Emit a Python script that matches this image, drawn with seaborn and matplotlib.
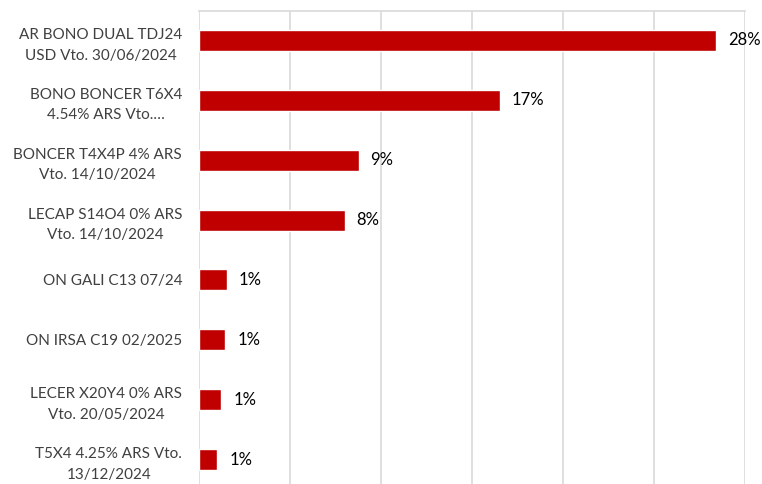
import numpy as np
import matplotlib
matplotlib.use("Agg")
import matplotlib.pyplot as plt
import seaborn as sns
import pandas as pd

# holdings (share of portfolio)
instruments = [
    "AR BONO DUAL TDJ24\nUSD Vto. 30/06/2024",
    "BONO BONCER T6X4\n4.54% ARS Vto.\u2026",
    "BONCER T4X4P 4% ARS\nVto. 14/10/2024",
    "LECAP S14O4 0% ARS\nVto. 14/10/2024",
    "ON GALI C13 07/24",
    "ON IRSA C19 02/2025",
    "LECER X20Y4 0% ARS\nVto. 20/05/2024",
    "T5X4 4.25% ARS Vto.\n13/12/2024",
]
weights = [0.2842, 0.1652, 0.0876, 0.0798, 0.0149, 0.0142, 0.0120, 0.0098]
x_ticks = [0.0, 0.05, 0.10, 0.15, 0.20, 0.25, 0.30]

df = pd.DataFrame({"instrument": instruments, "weight": weights})

sns.set_style("white")
plt.rcParams["font.family"] = ["Lato", "DejaVu Sans"]

fig = plt.figure(figsize=(7.62, 4.84), dpi=100)
ax = fig.add_axes([199.5 / 762, -5.5 / 484, (745 - 199.5) / 762, (484 - 10.5 + 5.5) / 484])

sns.barplot(data=df, y="instrument", x="weight", orient="h", color="#C00000",
            width=0.35, saturation=1, ax=ax)

ax.set_xlim(0, 0.30)
ax.set_xticks(x_ticks)
ax.set_xticklabels([])
ax.tick_params(axis="x", length=0)
ax.tick_params(axis="y", length=0, pad=12.5, labelsize=11, labelcolor="#404040")
for lbl in ax.get_yticklabels():
    lbl.set_multialignment("center")
    lbl.set_linespacing(1.6)

ax.grid(axis="x", color="#d9d9d9", linewidth=1.2)
ax.set_axisbelow(True)
for side in ["left", "right", "bottom"]:
    ax.spines[side].set_visible(False)
ax.spines["top"].set_color("#d9d9d9")
ax.spines["top"].set_linewidth(1.2)

ax.set_xlabel("")
ax.set_ylabel("")

for container in ax.containers:
    ax.bar_label(container, labels=[f"{round(w * 100):.0f}%" for w in weights],
                 padding=8.5, fontsize=12, color="#000000")

fig.savefig("out.png", dpi=100)
